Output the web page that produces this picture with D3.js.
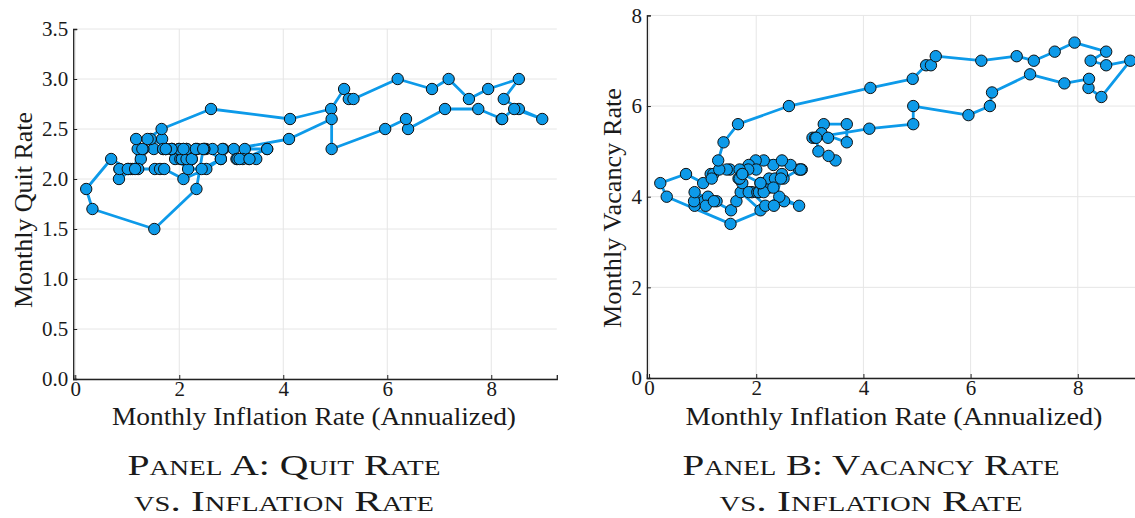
<!DOCTYPE html>
<html>
<head>
<meta charset="utf-8">
<script src="https://cdn.jsdelivr.net/npm/d3@7"></script>
<style>
  html, body { margin: 0; padding: 0; background: #fff; }
  svg { display: block; }
  text { font-family: "Liberation Serif", "DejaVu Serif", serif; fill: #1a1a1a; }
</style>
</head>
<body>
<svg id="chart" width="1135" height="518"></svg>
<script>
// ---- Data (monthly, chronological) ----
const inflation = [
  1.26,1.02,0.85,1.10,0.84,1.06,0.85,1.21,1.53,1.63,1.71,2.08,
  2.52,2.80,2.43,2.17,1.92,1.74,1.86,2.02,2.24,2.05,2.14,2.14,
  2.08,2.24,2.35,2.51,2.80,2.85,2.83,2.64,2.32,2.48,2.14,1.99,
  1.51,1.45,1.86,2.00,1.85,1.69,1.74,1.67,1.69,1.74,2.08,2.32,
  2.48,2.46,2.33,1.52,0.33,0.21,0.69,1.01,1.15,1.20,1.17,1.31,
  1.29,1.39,1.66,2.61,4.13,4.92,5.17,5.26,5.35,6.20,6.86,7.18,
  7.57,7.94,8.53,8.24,8.53,8.98,8.44,8.20,8.21,7.75,7.11,6.40,
  6.36,5.96,4.93,4.93,4.11,3.05,3.26,3.69,3.69,3.22,3.10,3.34,
  3.12,3.16,3.48,3.35
];
const quitRate = [
  2.2,2.1,2.1,2.1,2.0,2.1,2.1,2.1,2.1,2.1,2.1,2.0,
  2.1,2.2,2.1,2.1,2.2,2.3,2.3,2.2,2.2,2.2,2.2,2.3,
  2.3,2.2,2.3,2.3,2.2,2.3,2.3,2.3,2.3,2.3,2.3,2.3,
  2.3,2.4,2.3,2.3,2.3,2.3,2.3,2.4,2.3,2.3,2.3,2.3,
  2.3,2.3,1.9,1.5,1.7,1.9,2.2,2.1,2.1,2.3,2.4,2.3,
  2.3,2.4,2.5,2.7,2.6,2.7,2.9,2.8,2.8,3.0,2.9,3.0,
  2.8,2.9,3.0,2.8,2.7,2.6,2.7,2.6,2.6,2.7,2.7,2.5,
  2.6,2.5,2.3,2.6,2.4,2.3,2.3,2.3,2.3,2.2,2.2,2.2,
  2.2,2.2,2.2,2.2
];
const vacancyRate = [
  3.9,3.9,3.8,4.0,3.9,3.8,4.1,3.9,3.7,3.9,4.1,3.7,
  3.9,3.8,4.0,3.8,4.1,4.3,4.1,4.1,4.2,4.1,4.2,4.1,
  4.3,4.4,4.4,4.4,4.6,4.6,4.6,4.7,4.7,4.8,4.8,4.8,
  4.6,4.6,4.7,4.6,4.6,4.6,4.5,4.4,4.4,4.5,4.3,4.2,
  4.5,4.4,3.8,3.4,4.0,4.3,4.5,4.3,4.5,4.5,4.4,4.6,
  4.8,5.2,5.6,6.0,6.4,6.6,6.9,6.9,7.1,7.0,7.1,7.0,
  7.2,7.4,7.2,7.0,6.9,7.0,6.2,6.4,6.6,6.5,6.7,6.3,
  6.0,5.8,6.0,5.6,5.5,5.3,5.6,5.6,5.2,5.4,5.3,5.3,
  5.3,5.0,4.8,4.9
];
const xTicks = [0, 2, 4, 6, 8];
const quitTicks = [0.0, 0.5, 1.0, 1.5, 2.0, 2.5, 3.0, 3.5];
const vacancyTicks = [0, 2, 4, 6, 8];
const xLabel = "Monthly Inflation Rate (Annualized)";
const panels = [
  { ylabel: "Monthly Quit Rate", values: quitRate, ticks: quitTicks, yDomain: [0, 3.5], fmt: d3.format(".1f"),
    cap1: "Panel A: Quit Rate", cap2: "vs. Inflation Rate" },
  { ylabel: "Monthly Vacancy Rate", values: vacancyRate, ticks: vacancyTicks, yDomain: [0, 8], fmt: d3.format("d"),
    cap1: "Panel B: Vacancy Rate", cap2: "vs. Inflation Rate" }
];

// ---- Layout ----
const layout = [
  { x0: 73.2, x1: 556.8, y0: 379, y1: 29, xDomain: [-0.04, 9.26],
    ylabX: 23, ylabY: 210, ylabW: 196, xlabX: 314, xlabW: 404, capX: 284, cap1W: 313, cap2W: 300 },
  { x0: 646.9, x1: 1145.3, y0: 378, y1: 15.4, xDomain: [-0.04, 9.26],
    ylabX: 612, ylabY: 208, ylabW: 240, xlabX: 894, xlabW: 417, capX: 871, cap1W: 377, cap2W: 303 }
];
const blue = "#0d9ae9";
const svg = d3.select("#chart");

function stretch(sel, target) {
  sel.attr("textLength", target).attr("lengthAdjust", "spacingAndGlyphs");
}

panels.forEach((p, i) => {
  const L = layout[i];
  const x = d3.scaleLinear().domain(L.xDomain).range([L.x0, L.x1]);
  const y = d3.scaleLinear().domain(p.yDomain).range([L.y0, L.y1]);
  const clipId = "clip" + i;
  svg.append("clipPath").attr("id", clipId).append("rect")
    .attr("x", L.x0).attr("y", L.y1 - 8).attr("width", L.x1 - L.x0 + 8).attr("height", L.y0 - L.y1 + 8);
  const g = svg.append("g");

  // grid
  g.append("g").selectAll("line").data(xTicks).join("line")
    .attr("x1", d => x(d)).attr("x2", d => x(d)).attr("y1", L.y0).attr("y2", L.y1)
    .attr("stroke", "#e6e6e6").attr("stroke-width", 1);
  g.append("g").selectAll("line").data(p.ticks).join("line")
    .attr("x1", L.x0).attr("x2", L.x1).attr("y1", d => y(d)).attr("y2", d => y(d))
    .attr("stroke", "#e6e6e6").attr("stroke-width", 1);

  // axes
  const xAxis = d3.axisBottom(x).tickValues(xTicks).tickSize(-4).tickPadding(2).tickFormat(d3.format("d"));
  const yAxis = d3.axisLeft(y).tickValues(p.ticks).tickSize(-4).tickPadding(5).tickFormat(p.fmt);
  const gx = g.append("g").attr("transform", `translate(0,${L.y0})`).call(xAxis);
  const gy = g.append("g").attr("transform", `translate(${L.x0},0)`).call(yAxis);
  [gx, gy].forEach(a => {
    a.select(".domain").attr("stroke", "#222").attr("stroke-width", 1.3);
    a.selectAll(".tick line").attr("stroke", "#222");
    a.selectAll(".tick text").attr("font-family", "Liberation Serif, serif").attr("font-size", 21).attr("fill", "#222");
  });
  gx.selectAll(".tick text").attr("dy", "0.71em");

  // data line + markers
  const pts = inflation.map((v, k) => [v, p.values[k]]);
  const line = d3.line().x(d => x(d[0])).y(d => y(d[1]));
  const dg = g.append("g").attr("clip-path", `url(#${clipId})`);
  dg.append("path").datum(pts).attr("d", line)
    .attr("fill", "none").attr("stroke", blue).attr("stroke-width", 2.8).attr("stroke-linejoin", "round");
  dg.selectAll("circle").data(pts).join("circle")
    .attr("cx", d => x(d[0])).attr("cy", d => y(d[1])).attr("r", 5.7)
    .attr("fill", blue).attr("stroke", "#111").attr("stroke-width", 1);

  // axis labels
  const xl = svg.append("text").text(xLabel).attr("x", L.xlabX - L.xlabW / 2).attr("y", 425)
    .attr("font-size", 25.5);
  stretch(xl, L.xlabW);
  const yl = svg.append("text").text(p.ylabel)
    .attr("transform", `translate(${L.ylabX},${L.ylabY}) rotate(-90)`)
    .attr("x", -L.ylabW / 2).attr("dy", "0.35em").attr("font-size", 25.5);
  stretch(yl, L.ylabW);

  // captions (small caps)
  const c1 = svg.append("text").text(p.cap1).attr("x", L.capX - L.cap1W / 2).attr("y", 475)
    .attr("font-size", 29).style("font-variant", "small-caps");
  stretch(c1, L.cap1W);
  const c2 = svg.append("text").text(p.cap2).attr("x", L.capX - L.cap2W / 2).attr("y", 511)
    .attr("font-size", 29).style("font-variant", "small-caps");
  stretch(c2, L.cap2W);
});
</script>
</body>
</html>
